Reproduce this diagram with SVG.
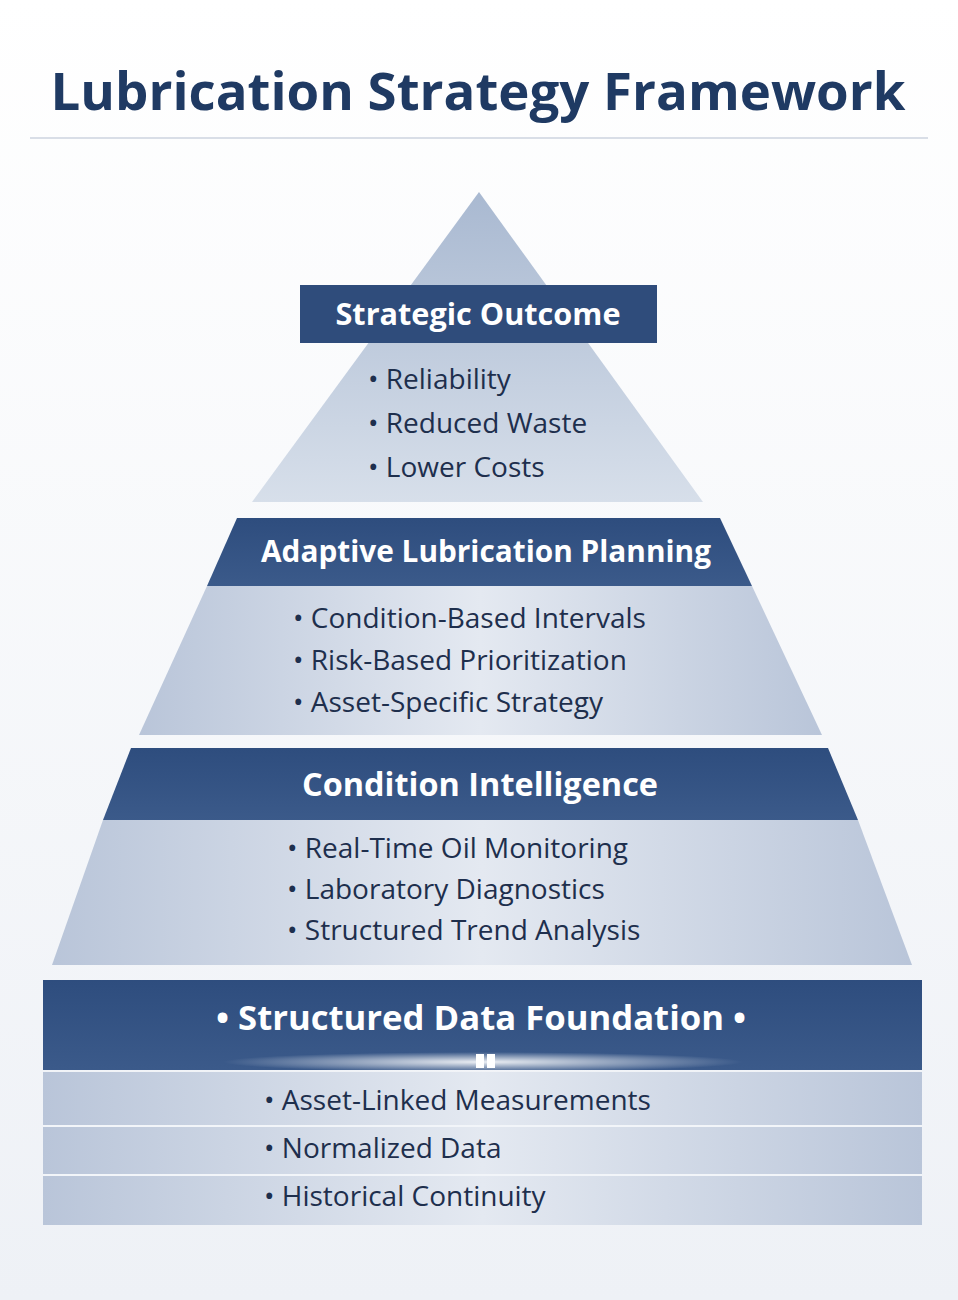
<svg xmlns="http://www.w3.org/2000/svg" width="958" height="1300" viewBox="0 0 958 1300">
<defs>
<linearGradient id="bg" x1="0" y1="0" x2="0" y2="1"><stop offset="0" stop-color="#ffffff"/><stop offset="1" stop-color="#eef1f6"/></linearGradient>
<linearGradient id="body" x1="0" y1="0" x2="1" y2="0"><stop offset="0" stop-color="#b9c5d9"/><stop offset="0.5" stop-color="#e4e9f1"/><stop offset="1" stop-color="#b9c5d9"/></linearGradient>
<linearGradient id="tri" x1="0" y1="0" x2="0" y2="1"><stop offset="0" stop-color="#a9b9d1"/><stop offset="1" stop-color="#d7dfea"/></linearGradient>
<linearGradient id="head" x1="0" y1="0" x2="0" y2="1"><stop offset="0" stop-color="#2e4d7e"/><stop offset="1" stop-color="#3b5a8a"/></linearGradient>
<radialGradient id="glow" cx="0.5" cy="0.5" r="0.5"><stop offset="0" stop-color="#ffffff" stop-opacity="0.9"/><stop offset="1" stop-color="#ffffff" stop-opacity="0"/></radialGradient>
<style>
.h{font-family:"Open Sans","Liberation Sans",sans-serif;font-weight:700;fill:#ffffff;text-anchor:middle}
.b{font-family:"Open Sans","Liberation Sans",sans-serif;font-size:28px;fill:#1e2f4d}
</style>
</defs>
<rect width="958" height="1300" fill="url(#bg)"/>
<text x="478" y="110" font-family="'Open Sans','Liberation Sans',sans-serif" font-weight="700" font-size="52" fill="#1f3a63" text-anchor="middle" textLength="855" lengthAdjust="spacingAndGlyphs">Lubrication Strategy Framework</text>
<line x1="30" y1="138" x2="928" y2="138" stroke="#d9dee7" stroke-width="2"/>
<g id="tier1">
<polygon points="479,192 703,502 252,502" fill="url(#tri)"/>
<rect x="300" y="285" width="357" height="58" fill="#2f4c7b"/>
<text class="h" x="478" y="325" font-size="30" textLength="285" lengthAdjust="spacingAndGlyphs">Strategic Outcome</text>
<text class="b" x="368" y="389">• Reliability</text>
<text class="b" x="368" y="433">• Reduced Waste</text>
<text class="b" x="368" y="477">• Lower Costs</text>
</g>
<g id="tier2">
<polygon points="237,518 720,518 752,586 207,586" fill="url(#head)"/>
<polygon points="207,586 752,586 822,735 139,735" fill="url(#body)"/>
<text class="h" x="486" y="562" font-size="30" textLength="450" lengthAdjust="spacingAndGlyphs">Adaptive Lubrication Planning</text>
<text class="b" x="293" y="628">• Condition-Based Intervals</text>
<text class="b" x="293" y="670">• Risk-Based Prioritization</text>
<text class="b" x="293" y="712">• Asset-Specific Strategy</text>
</g>
<g id="tier3">
<polygon points="131,748 828,748 858,820 103,820" fill="url(#head)"/>
<polygon points="103,820 858,820 912,965 52,965" fill="url(#body)"/>
<text class="h" x="480" y="796" font-size="32" textLength="356" lengthAdjust="spacingAndGlyphs">Condition Intelligence</text>
<text class="b" x="287" y="858">• Real-Time Oil Monitoring</text>
<text class="b" x="287" y="899">• Laboratory Diagnostics</text>
<text class="b" x="287" y="940">• Structured Trend Analysis</text>
</g>
<g id="tier4">
<rect x="43" y="980" width="879" height="90" fill="url(#head)"/>
<ellipse cx="483" cy="1062" rx="260" ry="10" fill="url(#glow)"/>
<rect x="476" y="1054" width="8" height="14" fill="#ffffff"/>
<rect x="487" y="1054" width="8" height="14" fill="#ffffff"/>
<rect x="43" y="1072" width="879" height="153" fill="url(#body)"/>
<line x1="43" y1="1126" x2="922" y2="1126" stroke="#f2f5f9" stroke-width="2"/>
<line x1="43" y1="1175" x2="922" y2="1175" stroke="#f2f5f9" stroke-width="2"/>
<text class="h" x="481" y="1030" font-size="34" textLength="530" lengthAdjust="spacingAndGlyphs">• Structured Data Foundation •</text>
<text class="b" x="264" y="1110">• Asset-Linked Measurements</text>
<text class="b" x="264" y="1158">• Normalized Data</text>
<text class="b" x="264" y="1206">• Historical Continuity</text>
</g>
<g id="connectors"/>
</svg>
